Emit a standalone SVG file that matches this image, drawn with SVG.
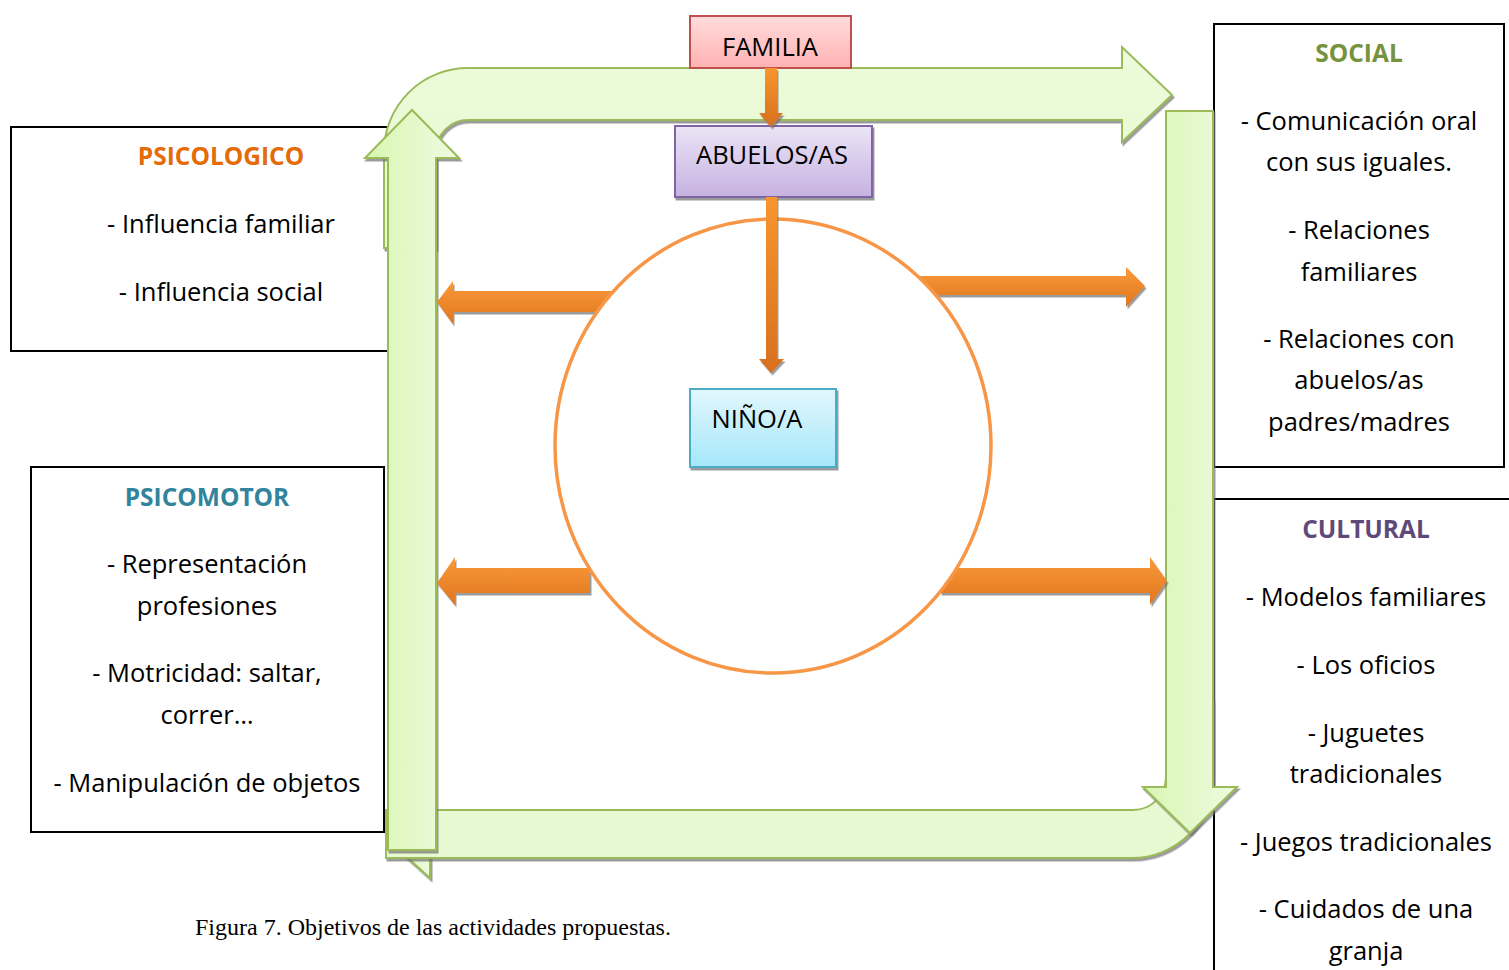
<svg xmlns="http://www.w3.org/2000/svg" width="1509" height="970" viewBox="0 0 1509 970">
<style>
.box{fill:#fff;stroke:#000;stroke-width:2}
.t{font-family:"Open Sans","Liberation Sans",sans-serif;font-size:25.5px;fill:#000;text-anchor:middle}
.h{font-family:"Open Sans","Liberation Sans",sans-serif;font-size:24.5px;font-weight:bold;text-anchor:middle}
.gv{fill:url(#gV);stroke:#9bbb59;stroke-width:2;filter:url(#sh)}
.gh{fill:url(#gH);stroke:#9bbb59;stroke-width:2;filter:url(#sh)}
.or{fill:url(#oH);filter:url(#sh)}
.ov{fill:url(#oV);filter:url(#sh)}
.cap{font-family:"Liberation Serif",serif;font-size:24px;fill:#000}
</style>
<defs>
<filter id="sh" x="-10%" y="-10%" width="130%" height="130%">
<feDropShadow dx="1.5" dy="2.5" stdDeviation="0.6" flood-color="#707070" flood-opacity="0.7"/>
</filter>
<linearGradient id="gV" x1="0" y1="0" x2="1" y2="0">
<stop offset="0" stop-color="#d8f6b2"/><stop offset="1" stop-color="#eefbe0"/>
</linearGradient>
<linearGradient id="gH" x1="0" y1="0" x2="0" y2="1">
<stop offset="0" stop-color="#ecfbda"/><stop offset="1" stop-color="#e6f9d0"/>
</linearGradient>
<linearGradient id="oH" x1="0" y1="0" x2="0" y2="1">
<stop offset="0" stop-color="#fa9a3a"/><stop offset="1" stop-color="#df761f"/>
</linearGradient>
<linearGradient id="oV" x1="0" y1="0" x2="0" y2="1">
<stop offset="0" stop-color="#f9952f"/><stop offset="1" stop-color="#d6701e"/>
</linearGradient>
<linearGradient id="pink" x1="0" y1="0" x2="0" y2="1">
<stop offset="0" stop-color="#ffdcdc"/><stop offset="1" stop-color="#ffb2b2"/>
</linearGradient>
<linearGradient id="purp" x1="0" y1="0" x2="0" y2="1">
<stop offset="0" stop-color="#ebe4f6"/><stop offset="1" stop-color="#c6b2e1"/>
</linearGradient>
<linearGradient id="cyan" x1="0" y1="0" x2="0" y2="1">
<stop offset="0" stop-color="#e2f7fd"/><stop offset="1" stop-color="#a6e7fa"/>
</linearGradient>
</defs>

<g id="psicologico">
<rect class="box" x="11" y="127" width="377" height="224"/>
<text class="h" x="221" y="165" fill="#e36c09">PSICOLOGICO</text>
<text class="t" x="221" y="233">- Influencia familiar</text>
<text class="t" x="221" y="301">- Influencia social</text>
</g>
<g id="psicomotor">
<rect class="box" x="31" y="467" width="353" height="365"/>
<text class="h" x="207" y="506" fill="#31849b">PSICOMOTOR</text>
<text class="t" x="207" y="573">- Representación</text>
<text class="t" x="207" y="615">profesiones</text>
<text class="t" x="207" y="682">- Motricidad: saltar,</text>
<text class="t" x="207" y="724">correr…</text>
<text class="t" x="207" y="792">- Manipulación de objetos</text>
</g>
<g id="social">
<rect class="box" x="1214" y="24" width="290" height="443"/>
<text class="h" x="1359" y="62" fill="#76923c">SOCIAL</text>
<text class="t" x="1359" y="130">- Comunicación oral</text>
<text class="t" x="1359" y="171">con sus iguales.</text>
<text class="t" x="1359" y="239">- Relaciones</text>
<text class="t" x="1359" y="281">familiares</text>
<text class="t" x="1359" y="348">- Relaciones con</text>
<text class="t" x="1359" y="389">abuelos/as</text>
<text class="t" x="1359" y="431">padres/madres</text>
</g>
<g id="cultural">
<rect class="box" x="1214" y="499" width="310" height="490"/>
<text class="h" x="1366" y="538" fill="#5f497a">CULTURAL</text>
<text class="t" x="1366" y="606">- Modelos familiares</text>
<text class="t" x="1366" y="674">- Los oficios</text>
<text class="t" x="1366" y="742">- Juguetes</text>
<text class="t" x="1366" y="783">tradicionales</text>
<text class="t" x="1366" y="851">- Juegos tradicionales</text>
<text class="t" x="1366" y="918">- Cuidados de una</text>
<text class="t" x="1366" y="960">granja</text>
</g>

<g id="connectors">
<path class="gh" d="M 384,248 L 384,152 A 84 84 0 0 1 468,68 L 1122,68 L 1122,47 L 1172,95 L 1122,142 L 1122,120 L 468,120 A 32 32 0 0 0 436,152 L 436,248 Z"/>
<polygon class="gv" points="400,851 430,878 430,856"/>
<path class="gh" d="M 1166,700 L 1166,777 A 33 33 0 0 1 1133,810 L 386,810 L 386,858 L 1132,858 A 81 81 0 0 0 1213,777 L 1213,700 Z"/>
<path class="gv" d="M 388,850 L 388,158 L 365,158 L 412,110 L 459,158 L 436,158 L 436,850 Z"/>
<path class="gv" d="M 1166,111 L 1213,111 L 1213,787 L 1237,787 L 1190,833 L 1143,787 L 1166,787 Z"/>
<path class="or" d="M 640,291 L 453,291 L 453,281 L 437,302 L 453,324 L 453,312 L 640,312 Z"/>
<path class="or" d="M 590,568 L 455,568 L 455,557 L 437,583 L 455,605 L 455,593 L 590,593 Z"/>
<path class="or" d="M 900,276 L 1126,276 L 1126,267 L 1145,286 L 1126,307 L 1126,295 L 900,295 Z"/>
<path class="or" d="M 940,568 L 1150,568 L 1150,557 L 1167,581 L 1150,605 L 1150,593 L 940,593 Z"/>
<ellipse cx="773" cy="446" rx="218" ry="227" fill="#fff" stroke="#f79646" stroke-width="3.5"/>
</g>

<g id="familia">
<rect x="690" y="16" width="161" height="52" fill="url(#pink)" stroke="#c0504d" stroke-width="2"/>
<text class="t" x="770" y="56">FAMILIA</text>
</g>
<g id="abuelos">
<rect x="675" y="126" width="197" height="71" fill="url(#purp)" stroke="#8064a2" stroke-width="2" filter="url(#sh)"/>
<text class="t" x="772" y="164">ABUELOS/AS</text>
</g>
<g id="nino">
<rect x="690" y="389" width="146" height="78" fill="url(#cyan)" stroke="#4bacc6" stroke-width="2" filter="url(#sh)"/>
<text class="t" x="757" y="428">NIÑO/A</text>
</g>
<g id="connectors-top">
<path class="ov" d="M 765,68 L 777,68 L 777,113 L 783,113 L 771,127 L 759,113 L 765,113 Z"/>
<path class="ov" d="M 766,197 L 777,197 L 777,359 L 784,359 L 771,373 L 759,359 L 766,359 Z"/>
</g>

<text class="cap" x="195" y="935">Figura 7. Objetivos de las actividades propuestas.</text>
</svg>
